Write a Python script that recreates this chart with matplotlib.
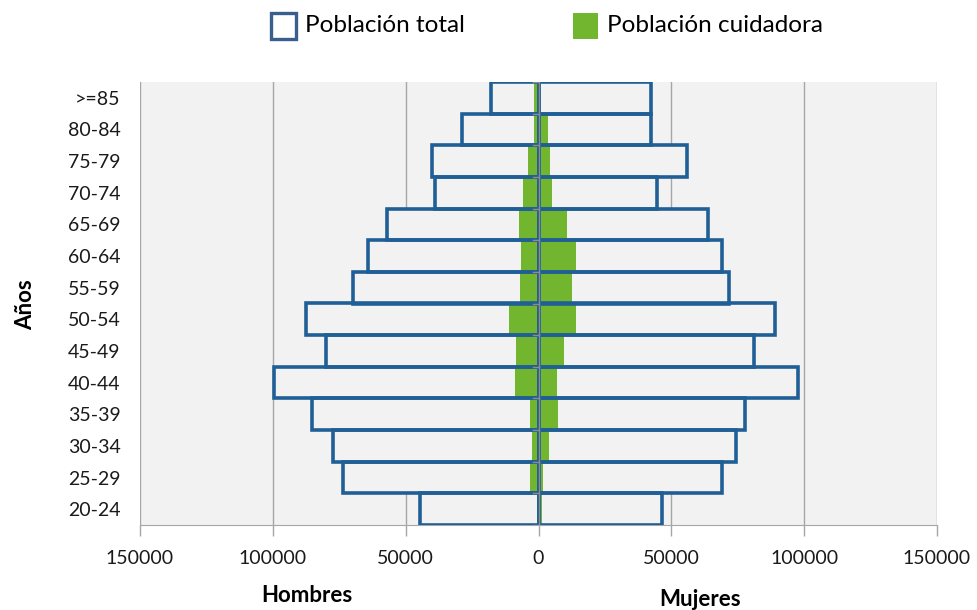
import matplotlib
matplotlib.use("Agg")
import matplotlib.pyplot as plt
from matplotlib.patches import Rectangle
import numpy as np

plt.rcParams['font.family'] = ['Lato', 'DejaVu Sans']

categories = ["20-24", "25-29", "30-34", "35-39", "40-44", "45-49", "50-54",
              "55-59", "60-64", "65-69", "70-74", "75-79", "80-84", ">=85"]
hombres_total = [44700, 73500, 77200, 85200, 99400, 80000, 87500,
                 70000, 64100, 56900, 39000, 40000, 28700, 17700]
mujeres_total = [46500, 68900, 74200, 77600, 97600, 81000, 89100,
                 71600, 68900, 63900, 44600, 55900, 42200, 42500]
hombres_cuid = [600, 3100, 2500, 3100, 8900, 8400, 11000,
                7100, 6600, 7500, 5900, 4000, 1700, 1700]
mujeres_cuid = [1200, 1700, 3900, 7200, 6900, 9500, 14200,
                12500, 14100, 10700, 5200, 4400, 3700, 1000]
xticks = [-150000, -100000, -50000, 0, 50000, 100000, 150000]

blue = '#1F5F96'
green = '#72B52F'
bg = '#F2F2F2'
grid = '#A6A6A6'

fig = plt.figure(figsize=(9.77, 6.10), dpi=100)
ax = fig.add_axes([140/977, 1-525/610, (937-140)/977, (525-82)/610])
ax.set_facecolor(bg)

y = np.arange(len(categories))
ht = -np.array(hombres_total)
mt = np.array(mujeres_total)
hc = -np.array(hombres_cuid)
mc = np.array(mujeres_cuid)

# fills of total bars
ax.barh(y, ht, height=1.0, color=bg, edgecolor='none', zorder=2)
ax.barh(y, mt, height=1.0, color=bg, edgecolor='none', zorder=2)
# carers
ax.barh(y, hc, height=1.0, color=green, edgecolor='none', zorder=3)
ax.barh(y, mc, height=1.0, color=green, edgecolor='none', zorder=3)
# outlines
ax.barh(y, ht, height=1.0, fill=False, edgecolor=blue, linewidth=2.6, zorder=4)
ax.barh(y, mt, height=1.0, fill=False, edgecolor=blue, linewidth=2.6, zorder=4)

# center axis line with small ticks
ax.axvline(0, color='#8C8C8C', linewidth=1.0, zorder=5)
for b in np.arange(-0.5, len(categories) + 0.5, 1.0):
    ax.plot([-2200, 0], [b, b], color='#8C8C8C', linewidth=1.0, zorder=5)

ax.set_xlim(-150000, 150000)
ax.set_ylim(-0.5, len(categories) - 0.5)
ax.set_xticks(xticks)
ax.set_xticklabels([str(abs(v)) for v in xticks], fontsize=14, color='#1a1a1a')
ax.tick_params(axis='x', length=8, color=grid, pad=10, width=1)
ax.xaxis.grid(True, color=grid, linewidth=1.0, zorder=0)
ax.set_axisbelow(True)
ax.set_yticks(y)
ax.set_yticklabels(categories, fontsize=14, color='#1a1a1a')
ax.tick_params(axis='y', length=0, pad=14)
for s in ['top', 'right', 'left']:
    ax.spines[s].set_visible(False)
ax.spines['bottom'].set_color(grid)

fig.text(26/977, 1-305/610, 'Años', rotation=90, fontsize=16, fontweight='bold',
         ha='center', va='center')
fig.text(307/977, 1-596/610, 'Hombres', fontsize=16, fontweight='bold',
         ha='center', va='center')
fig.text(700/977, 1-599/610, 'Mujeres', fontsize=16, fontweight='bold',
         ha='center', va='center')

# legend
fig.patches.append(Rectangle((271/977, 1-39/610), 25/977, 26/610, transform=fig.transFigure,
                             facecolor='white', edgecolor='#3A5F8F', linewidth=2.4))
fig.text(305/977, 1-26/610, 'Población total', fontsize=17.5, ha='left', va='center')
fig.patches.append(Rectangle((573/977, 1-39/610), 25/977, 26/610, transform=fig.transFigure,
                             facecolor=green, edgecolor='none'))
fig.text(607/977, 1-26/610, 'Población cuidadora', fontsize=17.5, ha='left', va='center')

fig.savefig('out.png', dpi=100)
